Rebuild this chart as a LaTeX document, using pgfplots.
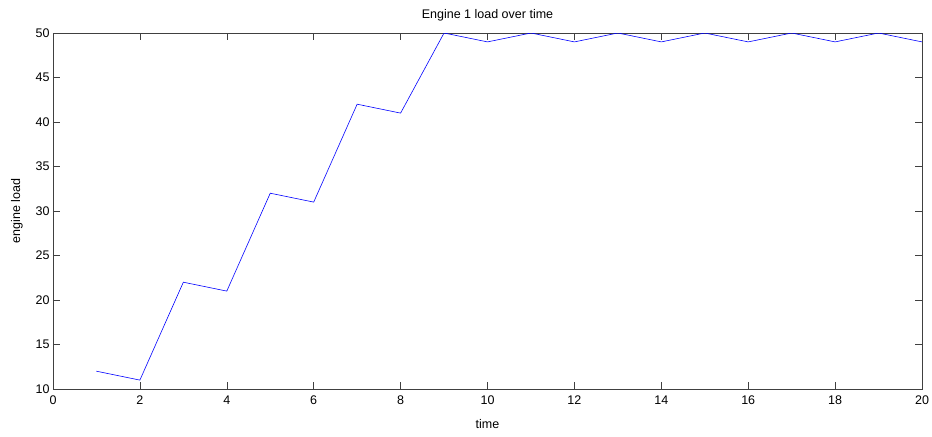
\documentclass[border=0pt]{standalone}
\usepackage{pgfplots}
\pgfplotsset{compat=1.18}
\usepackage{fontspec}
\setmainfont{Liberation Sans}
\begin{document}
\begin{tikzpicture}
\useasboundingbox (-53bp,-48bp) rectangle (879bp,389bp);
\begin{axis}[
  scale only axis,
  width=869bp, height=356bp,
  at={(0,0)}, anchor=south west,
  xmin=0, xmax=20, ymin=10, ymax=50,
  xtick={0,2,...,20}, ytick={10,15,...,50},
  tick align=inside,
  major tick length=7bp,
  axis line style={black!75, line width=0.6pt},
  every tick/.style={black!75, line width=0.6pt},
  font=\fontsize{12.5bp}{14bp}\selectfont,
  /pgf/number format/assume math mode=true,
  title={Engine 1 load over time},
  title style={at={(0.5,1)}, anchor=south, yshift=2bp},
  xlabel={time}, ylabel={engine load},
  xlabel style={yshift=-8bp},
  ylabel style={yshift=6bp},
  xticklabel style={yshift=-3bp},
]
\addplot[blue, line width=0.6pt] coordinates {
(1,12) (2,11) (3,22) (4,21) (5,32) (6,31) (7,42) (8,41) (9,50) (10,49)
(11,50) (12,49) (13,50) (14,49) (15,50) (16,49) (17,50) (18,49) (19,50) (20,49)
};
\end{axis}
\end{tikzpicture}
\end{document}
